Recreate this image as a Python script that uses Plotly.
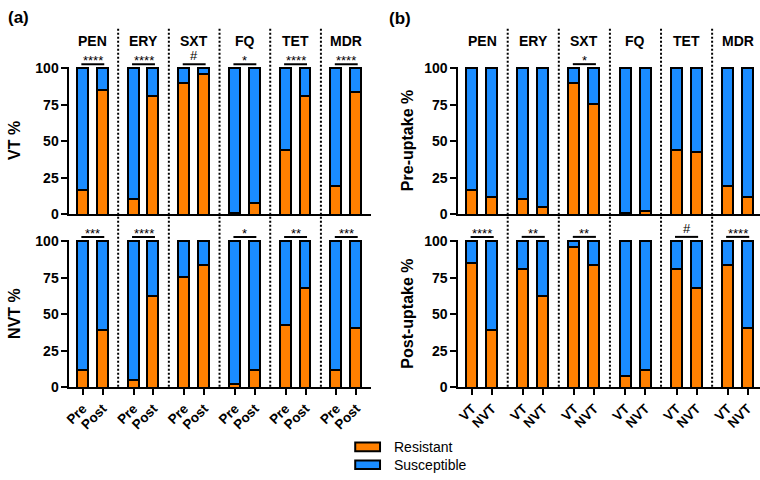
import plotly.graph_objects as go

# ---- data ----
drugs = ["PEN", "ERY", "SXT", "FQ", "TET", "MDR"]
vt_pre = [17, 11, 90, 1.5, 44, 19.6]
vt_post = [85, 81, 96, 8, 81.5, 83.7]
nvt_pre = [12.4, 5.5, 76, 2.4, 42.6, 12.4]
nvt_post = [39.3, 62.5, 84, 12.4, 68.4, 41]

sig_a_top = ["****", "****", "#", "*", "****", "****"]
sig_a_bot = ["***", "****", "", "*", "**", "***"]
sig_b_top = ["", "", "*", "", "", ""]
sig_b_bot = ["****", "**", "**", "", "#", "****"]

labels_a = ["Pre", "Post"]
labels_b = ["VT", "NVT"]
ytitles = ["VT %", "NVT %", "Pre-uptake %", "Post-uptake %"]
legend_names = ["Resistant", "Susceptible"]

ORANGE = "#FF8000"
BLUE = "#1A8CFF"
FONT = "Arial, Liberation Sans, sans-serif"

W, H = 760, 480
def xp(px): return px / W
def yp(px): return 1 - px / H

OFF = 0.196
BW = 0.215

fig = go.Figure()

panels = [
    ("x", "y", vt_pre, vt_post, sig_a_top, labels_a),
    ("x2", "y2", nvt_pre, nvt_post, sig_a_bot, labels_a),
    ("x3", "y3", vt_pre, nvt_pre, sig_b_top, labels_b),
    ("x4", "y4", vt_post, nvt_post, sig_b_bot, labels_b),
]

n = len(drugs)
for xa, ya, v1, v2, sig, lab in panels:
    xs = []
    res = []
    for g in range(n):
        xs += [g - OFF, g + OFF]
        res += [v1[g], v2[g]]
    sus = [100 - r for r in res]
    fig.add_trace(go.Bar(x=xs, y=res, width=BW, marker=dict(color=ORANGE, line=dict(color="black", width=2)),
                         xaxis=xa, yaxis=ya, showlegend=False, name=legend_names[0]))
    fig.add_trace(go.Bar(x=xs, y=sus, width=BW, marker=dict(color=BLUE, line=dict(color="black", width=2)),
                         xaxis=xa, yaxis=ya, showlegend=False, name=legend_names[1]))

# axes geometry
top_dom = [yp(214), yp(61.5)]
bot_dom = [yp(392.7), yp(240.2)]
left_dom = [xp(64), xp(368)]
right_dom = [xp(456), 1.0]
left_rng = [-0.46, 5.49]
right_rng = [-0.465, 5.437]

def xaxis(dom, rng, anchor, show_labels, lab):
    tv, tt = [], []
    for g in range(n):
        tv += [g - OFF, g + OFF]
        tt += lab
    d = dict(domain=dom, range=rng, anchor=anchor, showgrid=False, zeroline=False,
             showline=True, linecolor="black", linewidth=2, fixedrange=True)
    if show_labels:
        d.update(tickmode="array", tickvals=tv, ticktext=tt, ticks="outside", ticklen=6,
                 tickwidth=2, tickcolor="black", tickangle=-45,
                 tickfont=dict(family=FONT, size=13.5, color="black", weight="bold"))
    else:
        d.update(showticklabels=False, ticks="")
    return d

def yaxis(dom, anchor, title, tsize, standoff):
    return dict(domain=dom, range=[0, 101], anchor=anchor, showgrid=False, zeroline=False,
                showline=True, linecolor="black", linewidth=2, tickmode="array",
                tickvals=[0, 25, 50, 75, 100], ticks="outside", ticklen=6, tickwidth=2,
                tickcolor="black", fixedrange=True,
                tickfont=dict(family=FONT, size=14, color="black", weight="bold"),
                title=dict(text=title, standoff=standoff,
                           font=dict(family=FONT, size=tsize, color="black", weight="bold")))

fig.update_layout(
    xaxis=xaxis(left_dom, left_rng, "y", False, labels_a),
    xaxis2=xaxis(left_dom, left_rng, "y2", True, labels_a),
    xaxis3=xaxis(right_dom, right_rng, "y3", False, labels_b),
    xaxis4=xaxis(right_dom, right_rng, "y4", True, labels_b),
    yaxis=yaxis(top_dom, "x", ytitles[0], 16, 11),
    yaxis2=yaxis(bot_dom, "x2", ytitles[1], 16, 11),
    yaxis3=yaxis(top_dom, "x3", ytitles[2], 16, 7),
    yaxis4=yaxis(bot_dom, "x4", ytitles[3], 16, 7),
)

shapes = []
annotations = []

# dotted dividers
for xa in ["x", "x3"]:
    for g in range(n - 1):
        shapes.append(dict(type="line", xref=xa, yref="paper", x0=g + 0.5, x1=g + 0.5,
                           y0=yp(392), y1=yp(22), line=dict(color="black", width=2, dash="2px,2px")))

# group titles
for xa in ["x", "x3"]:
    for g, d in enumerate(drugs):
        annotations.append(dict(xref=xa, yref="paper", x=g, y=yp(35), text=d, showarrow=False,
                                xanchor="center", yanchor="middle",
                                font=dict(family=FONT, size=14, color="black", weight="bold")))

# significance
sig_y = {"x": 59, "x2": 237.3, "x3": 59, "x4": 237.3}
for xa, ya, v1, v2, sig, lab in panels:
    for g, s in enumerate(sig):
        if not s:
            continue
        ly = sig_y[xa]
        shapes.append(dict(type="line", xref=xa, yref="paper", x0=g - OFF - 0.03, x1=g + OFF + 0.03,
                           y0=yp(ly), y1=yp(ly), line=dict(color="black", width=2)))
        if s == "#":
            annotations.append(dict(xref=xa, yref="paper", x=g, y=yp(ly), text=s, showarrow=False,
                                    xanchor="center", yanchor="bottom", yshift=-1,
                                    font=dict(family=FONT, size=13, color="black")))
        else:
            annotations.append(dict(xref=xa, yref="paper", x=g, y=yp(ly), text=s, showarrow=False,
                                    xanchor="center", yanchor="bottom", yshift=-6,
                                    font=dict(family=FONT, size=13, color="black")))

# panel labels
annotations.append(dict(xref="paper", yref="paper", x=xp(0), y=yp(11), text="(a)", showarrow=False,
                        xanchor="left", yanchor="middle",
                        font=dict(family=FONT, size=17, color="black", weight="bold")))
annotations.append(dict(xref="paper", yref="paper", x=xp(384), y=yp(12), text="(b)", showarrow=False,
                        xanchor="left", yanchor="middle",
                        font=dict(family=FONT, size=17, color="black", weight="bold")))

# legend
for i, (name, col) in enumerate(zip(legend_names, [ORANGE, BLUE])):
    cy = 454 + i * 18.5
    shapes.append(dict(type="rect", xref="paper", yref="paper", x0=xp(352), x1=xp(377),
                       y0=yp(cy + 4.5), y1=yp(cy - 4.5), fillcolor=col,
                       line=dict(color="black", width=2)))
    annotations.append(dict(xref="paper", yref="paper", x=xp(389), y=yp(cy), text=name, showarrow=False,
                            xanchor="left", yanchor="middle",
                            font=dict(family=FONT, size=14, color="black")))

fig.update_layout(
    width=W, height=H, margin=dict(l=0, r=0, t=0, b=0),
    barmode="stack", bargap=0, plot_bgcolor="white", paper_bgcolor="white",
    shapes=shapes, annotations=annotations, showlegend=False,
    font=dict(family=FONT, color="black"),
)

fig.write_html("out.html", config={"displayModeBar": False},
               post_script="document.body.style.margin='0';document.body.style.overflow='hidden';")
